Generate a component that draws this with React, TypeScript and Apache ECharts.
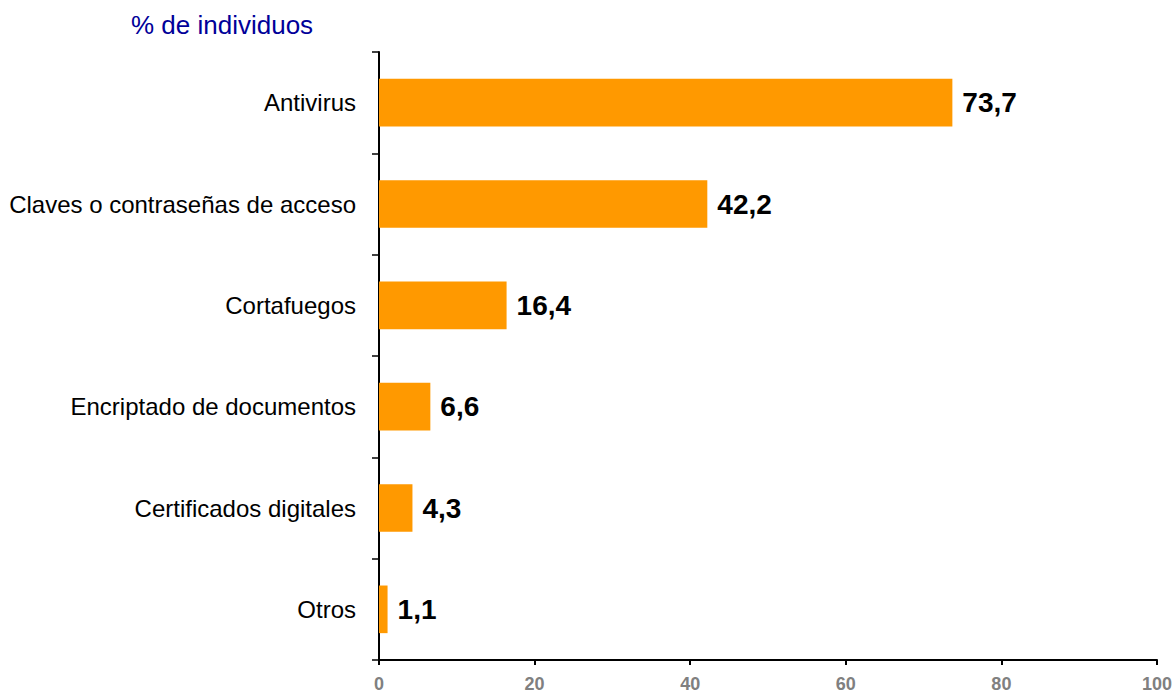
import React, { useEffect, useRef } from "react";
import * as echarts from "echarts";

const categories = [
  "Antivirus",
  "Claves o contraseñas de acceso",
  "Cortafuegos",
  "Encriptado de documentos",
  "Certificados digitales",
  "Otros",
];
const values = [73.7, 42.2, 16.4, 6.6, 4.3, 1.1];
const xTicks = { min: 0, max: 100, interval: 20 };
const title = "% de individuos";

const FONT = "Arial, 'Liberation Sans', sans-serif";

export default function App() {
  const ref = useRef<HTMLDivElement>(null);
  useEffect(() => {
    if (!ref.current) return;
    const chart = echarts.init(ref.current, null, { renderer: "svg" });
    chart.setOption({
      animation: false,
      backgroundColor: "#ffffff",
      title: {
        text: title,
        left: 126,
        top: 7,
        textStyle: { color: "#000099", fontSize: 26, fontWeight: "normal", fontFamily: FONT },
      },
      grid: { left: 379, top: 52, right: 17, bottom: 35, containLabel: false },
      xAxis: {
        type: "value",
        min: xTicks.min,
        max: xTicks.max,
        interval: xTicks.interval,
        axisLine: { show: true, lineStyle: { color: "#000", width: 2 } },
        axisTick: { show: true, length: 5, lineStyle: { color: "#000", width: 2 } },
        splitLine: { show: false },
        axisLabel: {
          color: "#808080",
          fontSize: 18,
          fontWeight: "bold",
          fontFamily: FONT,
          margin: 15,
        },
      },
      yAxis: {
        type: "category",
        inverse: true,
        data: categories,
        axisLine: { show: true, lineStyle: { color: "#000", width: 2 } },
        axisTick: { show: true, length: 7, lineStyle: { color: "#000", width: 1.5 } },
        axisLabel: { color: "#000", fontSize: 24, fontFamily: FONT, margin: 23 },
      },
      series: [
        {
          type: "bar",
          data: values,
          barCategoryGap: "53%",
          itemStyle: { color: "#FF9900" },
          label: {
            show: true,
            position: "right",
            distance: 10,
            color: "#000",
            fontSize: 28,
            fontWeight: "bold",
            fontFamily: FONT,
            formatter: (p: any) => String(p.value).replace(".", ","),
          },
        },
      ],
    });
    return () => chart.dispose();
  }, []);
  return (
    <div
      ref={ref}
      style={{ position: "fixed", left: 0, top: 0, width: 1175, height: 695 }}
    />
  );
}
